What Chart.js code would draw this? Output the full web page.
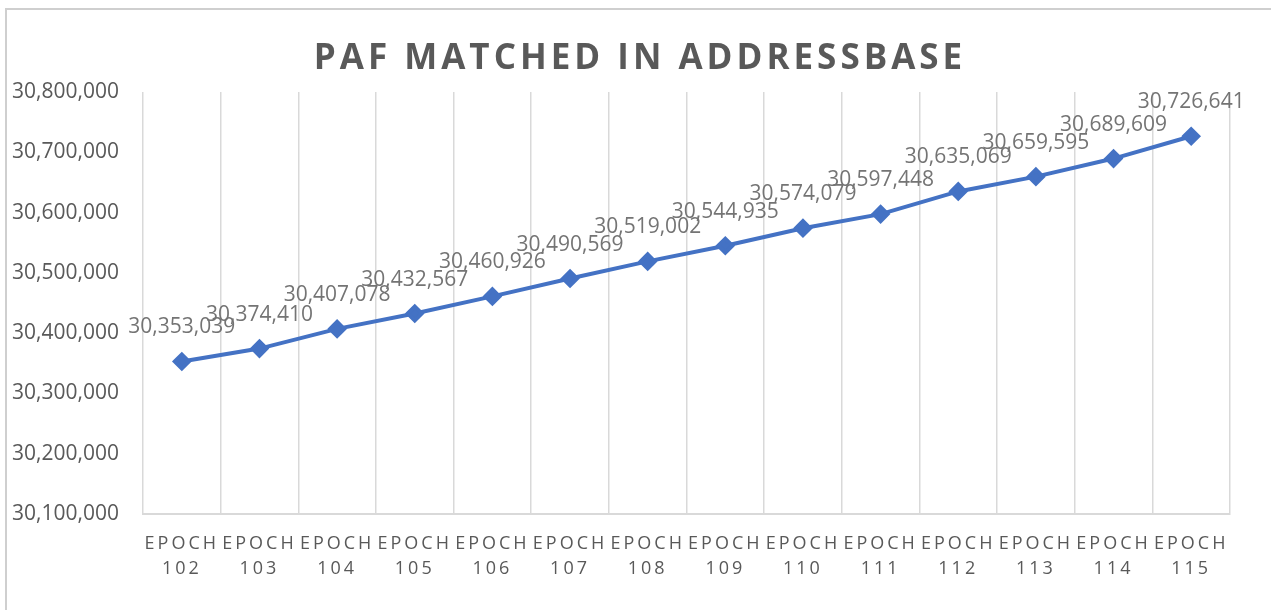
<!DOCTYPE html>
<html>
<head>
<meta charset="utf-8">
<script src="https://cdn.jsdelivr.net/npm/chart.js@4.4.1/dist/chart.umd.min.js"></script>
<style>
  html, body { margin: 0; padding: 0; background: #fff; overflow: hidden; }
  #frame { position: absolute; left: 5px; top: 8px; width: 1300px; height: 640px; border: 2px solid #cfcfcf; box-sizing: border-box; }
  #wrap { position: absolute; left: 0; top: 0; width: 1271px; height: 610px; }
</style>
</head>
<body>
<div id="frame"></div>
<div id="wrap"><canvas id="grafico" width="1271" height="610"></canvas></div>
<script>
const categorias = ['102', '103', '104', '105', '106', '107', '108', '109', '110', '111', '112', '113', '114', '115'];
const pafMatched = [30353039, 30374410, 30407078, 30432567, 30460926, 30490569, 30519002, 30544935, 30574079, 30597448, 30635069, 30659595, 30689609, 30726641];
const yTicks = [30100000, 30200000, 30300000, 30400000, 30500000, 30600000, 30700000, 30800000];

const fmt = (v) => v.toLocaleString('en-US');

// letter spacing for x labels and title
const spacing = {
    id: 'spacing',
    beforeDraw(chart) {
        const ctx = chart.ctx;
        const x = chart.scales.x;
        if (!x._wrapped) {
            const orig = x.drawLabels.bind(x);
            x.drawLabels = (area) => { ctx.save(); ctx.letterSpacing = '3px'; orig(area); ctx.restore(); };
            x._wrapped = true;
        }
        const t = chart.titleBlock;
        if (t && !t._wrapped) {
            const origT = t.draw.bind(t);
            t.draw = () => { ctx.save(); ctx.letterSpacing = '4px'; origT(); ctx.restore(); };
            t._wrapped = true;
        }
    }
};

// data labels above the points
const rotulos = {
    id: 'rotulos',
    afterDatasetsDraw(chart) {
        const ctx = chart.ctx;
        const meta = chart.getDatasetMeta(0);
        ctx.save();
        ctx.font = '21px "Open Sans"';
        ctx.fillStyle = '#747474';
        ctx.textAlign = 'center';
        ctx.textBaseline = 'alphabetic';
        meta.data.forEach((p, i) => {
            ctx.fillText(fmt(pafMatched[i]), p.x, p.y - 28);
        });
        ctx.restore();
    }
};

new Chart(document.getElementById('grafico'), {
    type: 'line',
    data: {
        labels: categorias.map((c) => ['EPOCH', c]),
        datasets: [
            {
                data: pafMatched,
                borderColor: '#4472C4',
                backgroundColor: '#4472C4',
                borderWidth: 4,
                pointStyle: 'rectRot',
                pointRadius: 7,
                pointHoverRadius: 7,
                tension: 0,
            },
        ],
    },
    options: {
        responsive: false,
        animation: false,
        layout: { padding: { left: 9, right: 0, top: 0, bottom: 0 } },
        plugins: {
            legend: { display: false },
            tooltip: { enabled: false },
            title: {
                display: true,
                text: 'PAF MATCHED IN ADDRESSBASE',
                color: '#595959',
                font: { family: 'Open Sans', size: 35, weight: 'bold', lineHeight: 1.2 },
                padding: { top: 38, bottom: 12 },
            },
        },
        scales: {
            x: {
                offset: true,
                grid: { display: true, offset: true, color: '#d9d9d9', lineWidth: 1.5, drawTicks: false },
                border: { display: true, color: '#d9d9d9', width: 2 },
                ticks: {
                    color: '#595959',
                    font: { family: 'Open Sans', size: 18, lineHeight: 1.4 },
                    padding: 17,
                    maxRotation: 0,
                    autoSkip: false,
                },
                afterFit: (s) => { s.height = 96; },
            },
            y: {
                min: yTicks[0],
                max: yTicks[yTicks.length - 1],
                grid: { display: false, drawTicks: false },
                border: { display: false },
                ticks: {
                    stepSize: 100000,
                    color: '#595959',
                    font: { family: 'Open Sans', size: 21 },
                    padding: 24,
                    callback: (v) => fmt(v),
                },
                afterFit: (s) => { s.width = 134; },
            },
            // empty right margin
            yR: {
                position: 'right',
                grid: { display: false, drawTicks: false },
                border: { display: false },
                ticks: { display: false },
                afterFit: (s) => { s.width = 41; },
            },
        },
    },
    plugins: [spacing, rotulos],
});
</script>
</body>
</html>
